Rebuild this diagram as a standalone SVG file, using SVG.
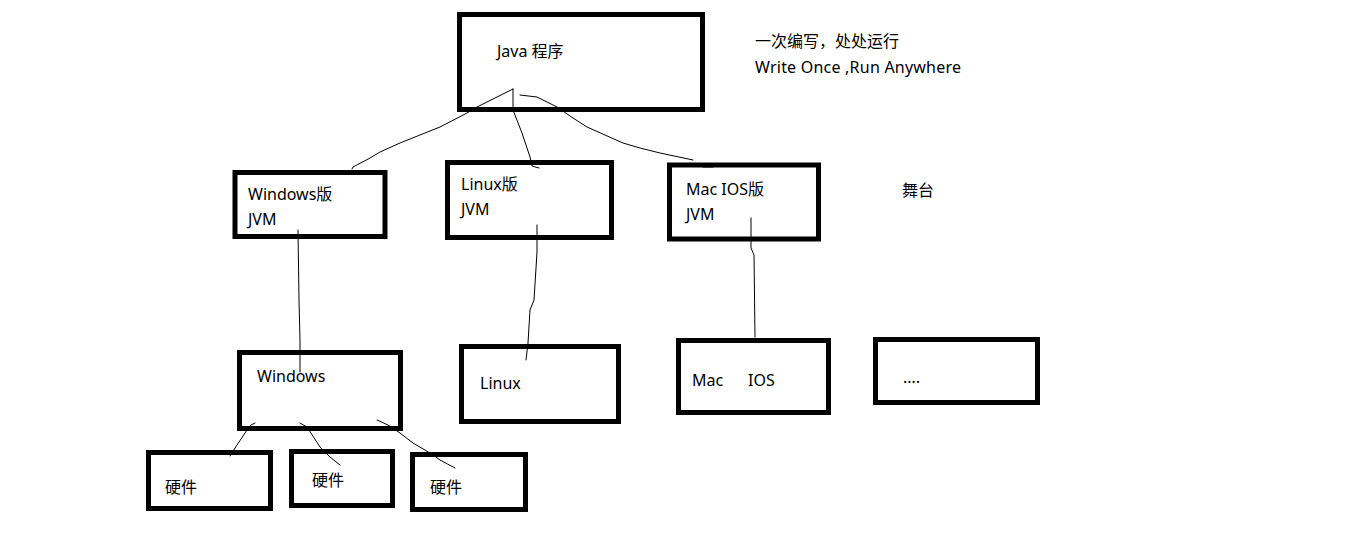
<svg xmlns="http://www.w3.org/2000/svg" width="1352" height="539" viewBox="0 0 1352 539">
<style>
.box{fill:none;stroke:#000;stroke-width:5}
.t{font-family:"Noto Sans","Noto Sans CJK SC",sans-serif;font-size:16px;fill:#000}
.c{fill:none;stroke:#000;stroke-width:1;stroke-linejoin:round;stroke-linecap:round}
</style>
<rect width="1352" height="539" fill="#fff"/>
<g id="connectors">
<polyline class="c" points="513,89 497,97 477,107 467,113 440,127 400,143 380,152 370,158 353,167 352,169"/>
<polyline class="c" points="513,89 513,110 522,133 530,157 532,166 539,168"/>
<polyline class="c" points="520,95 537,97 557,107 573,118 587,127 623,143 640,148 660,153 693,160"/>
<polyline class="c" points="703,167 713,167"/>
<polyline class="c" points="298,230 299,300 300,340 300,372"/>
<polyline class="c" points="537,225 537,252 534,300 530,310 528,343 526,360"/>
<polyline class="c" points="751,218 751,248 754,255 755,337"/>
<polyline class="c" points="255,423 251,425 247,430 235,448 230,456"/>
<polyline class="c" points="300,423 307,427 320,447 330,457 340,465"/>
<polyline class="c" points="377,420 388,425 400,433 413,443 430,453 440,460 455,468"/>
</g>
<g id="java">
<rect class="box" x="459.5" y="14.5" width="243" height="95"/>
<text class="t" x="497" y="57">Java 程序</text>
</g>
<g id="slogan">
<text class="t" x="755" y="47" textLength="144">一次编写，处处运行</text>
<text class="t" x="755" y="73" textLength="206">Write Once ,Run Anywhere</text>
</g>
<g id="stage">
<text class="t" x="902" y="196">舞台</text>
</g>
<g id="jvm-windows">
<rect class="box" x="235" y="172.5" width="150" height="64"/>
<text class="t" x="248" y="200">Windows版</text>
<text class="t" x="248" y="225">JVM</text>
</g>
<g id="jvm-linux">
<rect class="box" x="447.5" y="162.5" width="164" height="75"/>
<text class="t" x="461" y="190">Linux版</text>
<text class="t" x="461" y="215">JVM</text>
</g>
<g id="jvm-mac">
<rect class="box" x="669.5" y="165" width="149" height="74"/>
<text class="t" x="686" y="195">Mac IOS版</text>
<text class="t" x="686" y="220">JVM</text>
</g>
<g id="os-windows">
<rect class="box" x="239.5" y="352.5" width="161" height="76"/>
<text class="t" x="257" y="382">Windows</text>
</g>
<g id="os-linux">
<rect class="box" x="461.5" y="346.5" width="157" height="75"/>
<text class="t" x="480" y="389">Linux</text>
</g>
<g id="os-mac">
<rect class="box" x="678.5" y="340.5" width="150" height="72"/>
<text class="t" x="692" y="386">Mac</text>
<text class="t" x="748" y="386">IOS</text>
</g>
<g id="os-more">
<rect class="box" x="875.5" y="339.5" width="162" height="63"/>
<text class="t" x="903" y="383">....</text>
</g>
<g id="hw1">
<rect class="box" x="148.5" y="452.5" width="122" height="56"/>
<text class="t" x="165" y="493">硬件</text>
</g>
<g id="hw2">
<rect class="box" x="291.5" y="451.5" width="101" height="54"/>
<text class="t" x="312" y="486">硬件</text>
</g>
<g id="hw3">
<rect class="box" x="412.5" y="454.5" width="113" height="55"/>
<text class="t" x="430" y="493">硬件</text>
</g>
</svg>
